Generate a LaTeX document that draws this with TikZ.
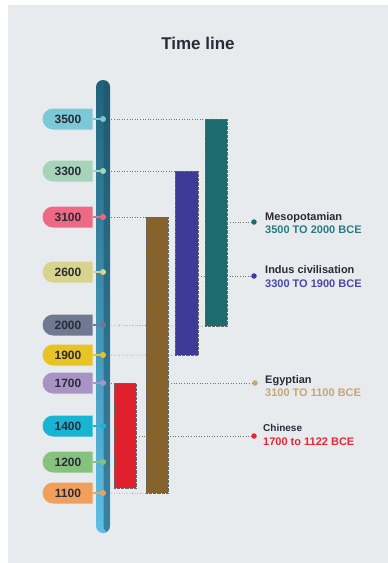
\documentclass[tikz,border=0pt]{standalone}
\usepackage{fontspec}
\setmainfont{Liberation Sans}
\usetikzlibrary{shapes.misc}
\definecolor{panel}{HTML}{E8EBEE}
\definecolor{ink}{HTML}{2B2B38}
\definecolor{spinetop}{HTML}{21627A}
\definecolor{spinebot}{HTML}{5EBFE8}
\definecolor{spineshade}{HTML}{1B5268}
\definecolor{c3500}{HTML}{7BC8D6}
\definecolor{c3300}{HTML}{A6D4B9}
\definecolor{c3100}{HTML}{EE6A84}
\definecolor{c2600}{HTML}{D8D48E}
\definecolor{c2000}{HTML}{6E7A91}
\definecolor{c1900}{HTML}{E8C324}
\definecolor{c1700}{HTML}{A894C4}
\definecolor{c1400}{HTML}{17B5D3}
\definecolor{c1200}{HTML}{86C27E}
\definecolor{c1100}{HTML}{F0A05A}
\definecolor{mesobar}{HTML}{1D6A6F}
\definecolor{indusbar}{HTML}{3E3B98}
\definecolor{egyptbar}{HTML}{85612C}
\definecolor{chinabar}{HTML}{E0202C}
\definecolor{mesotxt}{HTML}{2A7A82}
\definecolor{industxt}{HTML}{4B47A5}
\definecolor{egypttxt}{HTML}{C7A671}
\definecolor{chinatxt}{HTML}{E62737}
\pgfdeclarelayer{back}
\pgfdeclarelayer{guides}
\pgfsetlayers{back,guides,main}

\begin{document}
\begin{tikzpicture}[x=1pt, y=-1pt,
      tag/.style={rounded rectangle, rounded rectangle right arc=none,
                  minimum width=50pt, minimum height=21pt, inner sep=0pt,
                  font=\bfseries\fontsize{12}{13}\selectfont, text=ink},
      tick/.style={circle, inner sep=0pt, minimum size=6pt},
      stem/.style={line width=1.8pt},
      span/.style={rectangle, anchor=north west, inner sep=0pt,
                   draw=black!60, densely dotted, line width=0.3pt},
      guide/.style={draw=black!55, dotted, line width=0.6pt},
      civ/.style={anchor=base west, inner sep=0pt,
                  font=\bfseries\fontsize{11}{12}\selectfont, text=ink}]
    \useasboundingbox (0,0) rectangle (388,563);
    \begin{pgfonlayer}{back}
      \fill[white] (0,0) rectangle (388,563);
      \fill[panel] (8,5) rectangle (388,563);
    \end{pgfonlayer}
    \node[font=\bfseries\fontsize{17}{20}\selectfont, text=ink] (title) at (198,43) {Time line};
    % vertical spine
    \node[rectangle, rounded corners=7pt, minimum width=14pt, minimum height=453pt, inner sep=0pt,
          top color=spinetop, bottom color=spinebot,
          path picture={\fill[spineshade, opacity=.55]
            ([xshift=0.5pt]path picture bounding box.north) rectangle (path picture bounding box.south east);}]
      (spine) at (103,306.5) {};
    % year tags
    \node[tag, fill=c3500] (t3500) at (68,119) {3500};
    \node[tick, fill=c3500] (d3500) at (103,119) {};
    \node[tag, fill=c3300] (t3300) at (68,171) {3300};
    \node[tick, fill=c3300] (d3300) at (103,171) {};
    \node[tag, fill=c3100] (t3100) at (68,217) {3100};
    \node[tick, fill=c3100] (d3100) at (103,217) {};
    \node[tag, fill=c2600] (t2600) at (68,272) {2600};
    \node[tick, fill=c2600] (d2600) at (103,272) {};
    \node[tag, fill=c2000] (t2000) at (68,325) {2000};
    \node[tick, fill=c2000] (d2000) at (103,325) {};
    \node[tag, fill=c1900] (t1900) at (68,355) {1900};
    \node[tick, fill=c1900] (d1900) at (103,355) {};
    \node[tag, fill=c1700] (t1700) at (68,383) {1700};
    \node[tick, fill=c1700] (d1700) at (103,383) {};
    \node[tag, fill=c1400] (t1400) at (68,426) {1400};
    \node[tick, fill=c1400] (d1400) at (103,426) {};
    \node[tag, fill=c1200] (t1200) at (68,462) {1200};
    \node[tick, fill=c1200] (d1200) at (103,462) {};
    \node[tag, fill=c1100] (t1100) at (68,493) {1100};
    \node[tick, fill=c1100] (d1100) at (103,493) {};
    \draw[stem, c3500] (t3500.east) -- (d3500);
    \draw[stem, c3300] (t3300.east) -- (d3300);
    \draw[stem, c3100] (t3100.east) -- (d3100);
    \draw[stem, c2600] (t2600.east) -- (d2600);
    \draw[stem, c2000] (t2000.east) -- (d2000);
    \draw[stem, c1900] (t1900.east) -- (d1900);
    \draw[stem, c1700] (t1700.east) -- (d1700);
    \draw[stem, c1400] (t1400.east) -- (d1400);
    \draw[stem, c1200] (t1200.east) -- (d1200);
    \draw[stem, c1100] (t1100.east) -- (d1100);
    % civilisation spans
    \node[span, fill=mesobar, minimum width=22pt, minimum height=207pt] (meso) at (205,119) {};
    \node[span, fill=indusbar, minimum width=23pt, minimum height=184pt] (indus) at (175,171) {};
    \node[span, fill=egyptbar, minimum width=22pt, minimum height=276pt] (egypt) at (146,217) {};
    \node[span, fill=chinabar, minimum width=22pt, minimum height=105pt] (china) at (114,383) {};
    % legend
    \node[tick, minimum size=5.5pt, fill=mesobar] (lmeso) at (254,222) {};
    \node[tick, minimum size=5.5pt, fill=indusbar] (lindus) at (254,276) {};
    \node[tick, minimum size=5.5pt, fill=egypttxt] (legypt) at (255,383) {};
    \node[tick, minimum size=5.5pt, fill=chinatxt] (lchina) at (254,436) {};
    \node[civ] (nmeso) at (265,220) {Mesopotamian};
    \node[civ, text=mesotxt] (ymeso) at (265,233.5) {3500 TO 2000 BCE};
    \node[civ] (nindus) at (265,273) {Indus civilisation};
    \node[civ, text=industxt] (yindus) at (265,287) {3300 TO 1900 BCE};
    \node[civ] (negypt) at (265,383) {Egyptian};
    \node[civ, text=egypttxt] (yegypt) at (265,396.5) {3100 TO 1100 BCE};
    \node[civ, font=\bfseries\fontsize{10}{12}\selectfont] (nchina) at (263,431) {Chinese};
    \node[civ, text=chinatxt] (ychina) at (263,445) {1700 to 1122 BCE};
    \begin{pgfonlayer}{guides}
      \draw[guide] (d3500) -- (meso.north west);
      \draw[guide] (d3300) -- (indus.north west);
      \draw[guide] (d3100) -- (egypt.north west);
      \draw[guide] (d2000) -- (meso.south west);
      \draw[guide] (d1900) -- (indus.south west);
      \draw[guide] (d1700) -- (china.north west);
      \draw[guide] (d1100) -- (egypt.south west);
      \draw[guide] (meso.east |- lmeso) -- (lmeso);
      \draw[guide] (indus.east |- lindus) -- (lindus);
      \draw[guide] (egypt.east |- legypt) -- (legypt);
      \draw[guide] (china.east |- lchina) -- (lchina);
    \end{pgfonlayer}
  \end{tikzpicture}
\end{document}
